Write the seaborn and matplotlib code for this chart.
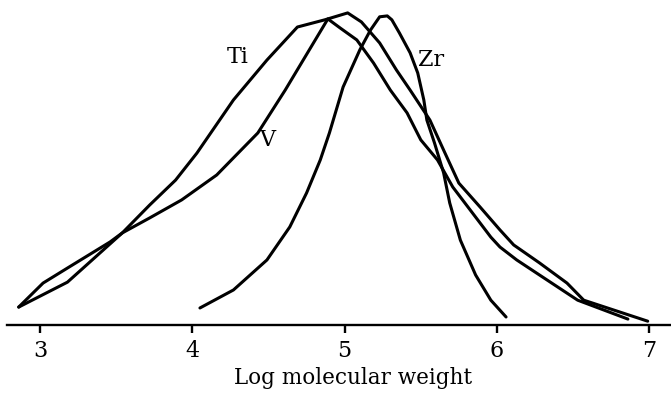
import pandas as pd
import matplotlib
matplotlib.use('Agg')
import matplotlib.pyplot as plt
import seaborn as sns

# curve points: log M vs relative amount
ti_x = [2.86, 3.18, 3.54, 3.72, 3.89, 4.03, 4.27, 4.49, 4.69, 4.87, 5.02,
        5.11, 5.23, 5.34, 5.43, 5.56, 5.65, 5.75, 5.89, 6.02, 6.11, 6.28,
        6.46, 6.57, 6.99]
ti_y = [6.0, 14.3, 30.7, 40.0, 48.3, 57.3, 75.0, 88.3, 99.3, 101.7, 104.0,
        101.0, 94.0, 85.0, 78.3, 68.3, 58.3, 47.3, 39.3, 31.7, 26.7, 20.7,
        14.0, 8.3, 1.3]

v_x = [2.86, 3.02, 3.18, 3.46, 3.54, 3.72, 3.93, 4.16, 4.43, 4.61, 4.89,
       4.97, 5.08, 5.19, 5.30, 5.41, 5.50, 5.61, 5.71, 5.96, 6.02, 6.13,
       6.30, 6.53, 6.86]
v_y = [6.0, 14.0, 19.0, 27.7, 30.7, 35.7, 41.7, 50.0, 64.0, 78.3, 102.0,
       99.0, 95.0, 87.3, 78.3, 70.7, 61.7, 55.0, 46.0, 29.3, 26.0, 21.7,
       16.0, 8.3, 2.0]

zr_x = [4.05, 4.27, 4.49, 4.64, 4.75, 4.84, 4.90, 4.99, 5.10, 5.17, 5.23,
        5.28, 5.31, 5.36, 5.43, 5.48, 5.52, 5.54, 5.59, 5.65, 5.69, 5.76,
        5.86, 5.96, 6.06]
zr_y = [5.7, 11.7, 21.7, 32.7, 44.0, 55.0, 64.0, 79.3, 91.7, 98.3, 102.7,
        103.0, 101.7, 97.3, 90.7, 84.0, 75.0, 68.3, 60.7, 50.7, 40.7, 28.3,
        16.7, 8.3, 2.7]

labels = ['Ti', 'V', 'Zr']
label_x = [4.30, 4.49, 5.57]
label_y = [89.3, 61.7, 88.3]
ticks = [3, 4, 5, 6, 7]

df = pd.concat([
    pd.DataFrame({'logM': ti_x, 'amount': ti_y, 'metal': 'Ti'}),
    pd.DataFrame({'logM': v_x, 'amount': v_y, 'metal': 'V'}),
    pd.DataFrame({'logM': zr_x, 'amount': zr_y, 'metal': 'Zr'}),
])

sns.set_style("white")
plt.rcParams['font.family'] = ['DejaVu Serif']
plt.rcParams['text.color'] = 'black'

fig = plt.figure(figsize=(6.71, 3.95), dpi=100)
ax = fig.add_axes([0.0104, 0.177, 0.9896, 0.823])

sns.lineplot(data=df, x='logM', y='amount', hue='metal', units='metal',
             estimator=None, sort=False, palette=['black'] * 3,
             linewidth=2.2, legend=False, ax=ax)

for name, lx, ly in zip(labels, label_x, label_y):
    ax.text(lx, ly, name, fontsize=16, ha='center', va='center', color='black')

ax.set_xlim(2.783, 7.143)
ax.set_ylim(0, 108.3)
ax.set_xticks(ticks)
ax.set_xticklabels([str(t) for t in ticks], fontsize=16)
ax.set_yticks([])
ax.set_ylabel('')
ax.set_xlabel('Log molecular weight', fontsize=15.5, color='black')
ax.xaxis.set_label_coords(0.521, -0.128)
for s in ['top', 'left', 'right']:
    ax.spines[s].set_visible(False)
ax.spines['bottom'].set_linewidth(1.7)
ax.spines['bottom'].set_color('black')
ax.tick_params(axis='x', direction='out', length=6, width=1.7, pad=5,
               bottom=True, colors='black')

fig.savefig('out.png', dpi=100)
